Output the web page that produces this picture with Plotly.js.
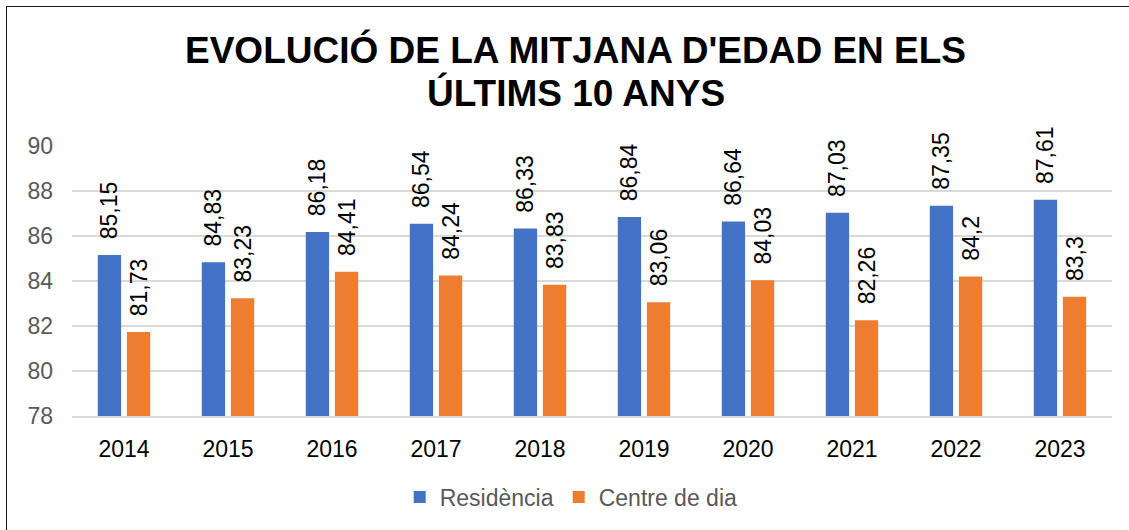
<!DOCTYPE html>
<html>
<head>
<meta charset="utf-8">
<script src="https://cdn.plot.ly/plotly-3.0.1.min.js"></script>
<style>
  html, body { margin: 0; padding: 0; background: #fff; overflow: hidden; }
  #wrap { position: relative; width: 1129px; height: 530px; overflow: hidden; }
  #chart { position: absolute; left: 0; top: 0; width: 1129px; height: 530px; }
  #frame { position: absolute; left: 6px; top: 6px; width: 1200px; height: 600px;
           border-left: 1.5px solid #1a1a1a; border-top: 1.5px solid #1a1a1a; pointer-events: none; }
</style>
</head>
<body>
<div id="wrap">
  <div id="chart"></div>
  <div id="frame"></div>
</div>
<script>
const years = ['2014', '2015', '2016', '2017', '2018', '2019', '2020', '2021', '2022', '2023'];
const residencia = [85.15, 84.83, 86.18, 86.54, 86.33, 86.84, 86.64, 87.03, 87.35, 87.61];
const centreDia = [81.73, 83.23, 84.41, 84.24, 83.83, 83.06, 84.03, 82.26, 84.2, 83.3];
const seriesNames = ['Residència', 'Centre de dia'];
const titleLines = ["EVOLUCIÓ DE LA MITJANA D'EDAD EN ELS", 'ÚLTIMS 10 ANYS'];
const yTicks = [78, 80, 82, 84, 86, 88, 90];

const FONT = 'Liberation Sans, Arial, sans-serif';
const fmt = v => '\u00A0\u00A0' + String(v).replace('.', ',');

function barTrace(name, values, color) {
  return {
    type: 'bar',
    name: name,
    x: years,
    y: values,
    text: values.map(fmt),
    textposition: 'outside',
    textangle: -90,
    constraintext: 'none',
    cliponaxis: false,
    textfont: { family: FONT, size: 23, color: '#000000' },
    marker: { color: color, line: { width: 0 } },
    hoverinfo: 'skip'
  };
}

const data = [
  barTrace(seriesNames[0], residencia, '#4472C4'),
  barTrace(seriesNames[1], centreDia, '#ED7D31')
];

const layout = {
  width: 1129,
  height: 530,
  margin: { l: 72, r: 17, t: 146, b: 112, pad: 0 },
  paper_bgcolor: '#ffffff',
  plot_bgcolor: '#ffffff',
  font: { family: FONT, size: 23, color: '#595959' },
  barmode: 'group',
  bargap: 0.44,
  bargroupgap: 0.2,
  showlegend: true,
  legend: {
    orientation: 'h',
    x: 0.48,
    xanchor: 'center',
    y: -0.30,
    yanchor: 'middle',
    font: { family: FONT, size: 23, color: '#595959' },
    itemsizing: 'constant',
    traceorder: 'normal'
  },
  xaxis: {
    type: 'category',
    showgrid: false,
    showline: true,
    linecolor: '#D9D9D9',
    linewidth: 1.5,
    ticks: '',
    tickfont: { family: FONT, size: 23, color: '#000000' },
    ticklabelstandoff: 12,
    fixedrange: true
  },
  yaxis: {
    range: [78, 90],
    tickvals: yTicks,
    ticktext: yTicks.map(String),
    showgrid: true,
    gridcolor: '#D9D9D9',
    gridwidth: 1.5,
    zeroline: false,
    showline: false,
    ticks: '',
    tickfont: { family: FONT, size: 23, color: '#595959' },
    ticklabelstandoff: 18,
    fixedrange: true
  },
  annotations: [
    {
      text: '<b>' + titleLines[0] + '</b>',
      xref: 'paper', yref: 'paper',
      x: 0.4846, y: 1.3566,
      xanchor: 'center', yanchor: 'middle',
      showarrow: false,
      font: { family: FONT, size: 37, color: '#000000' }
    },
    {
      text: '<b>' + titleLines[1] + '</b>',
      xref: 'paper', yref: 'paper',
      x: 0.4846, y: 1.197,
      xanchor: 'center', yanchor: 'middle',
      showarrow: false,
      font: { family: FONT, size: 37, color: '#000000' }
    }
  ]
};

Plotly.newPlot('chart', data, layout, { displayModeBar: false, staticPlot: true });
</script>
</body>
</html>
